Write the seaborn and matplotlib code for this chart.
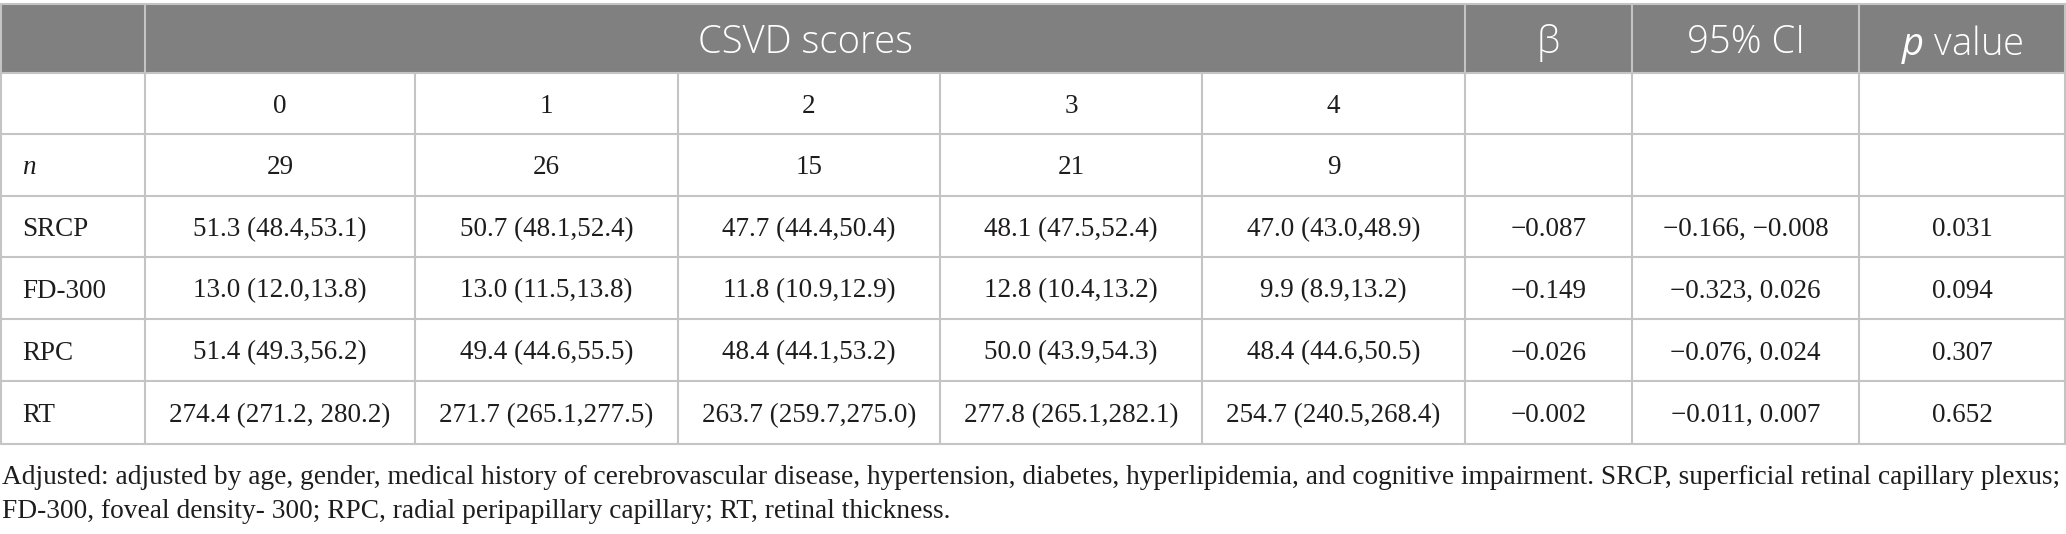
import matplotlib
matplotlib.use("Agg")
import matplotlib.pyplot as plt
import seaborn as sns
from matplotlib.patches import Rectangle

# ---------------- DATA ---------------- #
score_labels = ["0", "1", "2", "3", "4"]
n_counts = [29, 26, 15, 21, 9]
row_labels = ["SRCP", "FD-300", "RPC", "RT"]

srcp_cells = ["51.3 (48.4,53.1)", "50.7 (48.1,52.4)", "47.7 (44.4,50.4)", "48.1 (47.5,52.4)", "47.0 (43.0,48.9)"]
fd300_cells = ["13.0 (12.0,13.8)", "13.0 (11.5,13.8)", "11.8 (10.9,12.9)", "12.8 (10.4,13.2)", "9.9 (8.9,13.2)"]
rpc_cells = ["51.4 (49.3,56.2)", "49.4 (44.6,55.5)", "48.4 (44.1,53.2)", "50.0 (43.9,54.3)", "48.4 (44.6,50.5)"]
rt_cells = ["274.4 (271.2, 280.2)", "271.7 (265.1,277.5)", "263.7 (259.7,275.0)", "277.8 (265.1,282.1)", "254.7 (240.5,268.4)"]

beta = ["\u22120.087", "\u22120.149", "\u22120.026", "\u22120.002"]
ci95 = ["\u22120.166, \u22120.008", "\u22120.323, 0.026", "\u22120.076, 0.024", "\u22120.011, 0.007"]
p_values = ["0.031", "0.094", "0.307", "0.652"]

footnote = [
    "Adjusted: adjusted by age, gender, medical history of cerebrovascular disease, hypertension, diabetes, "
    "hyperlipidemia, and cognitive impairment. SRCP, superficial retinal capillary plexus;",
    "FD-300, foveal density- 300; RPC, radial peripapillary capillary; RT, retinal thickness.",
]

# ---------------- LAYOUT ---------------- #
sns.set_theme(style="white")
plt.rcParams["font.family"] = ["Liberation Serif", "DejaVu Serif"]
plt.rcParams["mathtext.fontset"] = "custom"
plt.rcParams["mathtext.it"] = "Open Sans:italic"
plt.rcParams["mathtext.rm"] = "Open Sans"

W, H = 2066, 534
fig = plt.figure(figsize=(W / 100, H / 100), dpi=100)
ax = fig.add_axes([0, 0, 1, 1])
ax.set_xlim(0, W)
ax.set_ylim(H, 0)
ax.axis("off")

col_edges = [1, 145, 415, 678, 940, 1202, 1465, 1632, 1859, 2065]
row_edges = [4, 73, 134, 196, 257, 319, 381, 444]

header_bg = "#808080"
line_c = "#c4c4c4"
text_c = "#1e1c1d"
serif_size = 19.5
head_size = 27.5
sans = ["Open Sans", "DejaVu Sans"]

# header band
ax.add_patch(Rectangle((col_edges[0], row_edges[0]), col_edges[-1] - col_edges[0],
                       row_edges[1] - row_edges[0], color=header_bg, lw=0, zorder=0))

lw = 1.5
# horizontal lines
for y in row_edges:
    ax.plot([col_edges[0], col_edges[-1]], [y, y], color=line_c, lw=lw, zorder=2)
# vertical lines (score columns split only below the header)
for i, x in enumerate(col_edges):
    y0 = row_edges[1] if 2 <= i <= 5 else row_edges[0]
    ax.plot([x, x], [y0, row_edges[-1]], color=line_c, lw=lw, zorder=2)

def cx(i):
    return (col_edges[i] + col_edges[i + 1]) / 2

def cy(j):
    return (row_edges[j] + row_edges[j + 1]) / 2

# header text
hy = cy(0)
head_kw = dict(color="white", fontsize=head_size, family=sans, fontweight="light",
               ha="center", va="center_baseline")
ax.text((col_edges[1] + col_edges[6]) / 2, hy, "CSVD scores", **head_kw)
ax.text(cx(6), hy, "\u03b2", **head_kw)
ax.text(cx(7), hy, "95% CI", **head_kw)
ax.text(cx(8), hy, r"$\mathit{p}$ value", **head_kw)

body_kw = dict(color=text_c, fontsize=serif_size, va="center_baseline")

# score row
for i, s in enumerate(score_labels):
    ax.text(cx(i + 1), cy(1), s, ha="center", **body_kw)

# n row
ax.text(22, cy(2), "n", style="italic", ha="left", **body_kw)
for i, n in enumerate(n_counts):
    ax.text(cx(i + 1), cy(2), str(n), ha="center", **body_kw)

# measurement rows
body = [srcp_cells, fd300_cells, rpc_cells, rt_cells]
for r, (label, cells) in enumerate(zip(row_labels, body)):
    y = cy(r + 3)
    ax.text(22, y, label, ha="left", **body_kw)
    for i, c in enumerate(cells):
        ax.text(cx(i + 1), y, c, ha="center", **body_kw)
    ax.text(cx(6), y, beta[r], ha="center", **body_kw)
    ax.text(cx(7), y, ci95[r], ha="center", **body_kw)
    ax.text(cx(8), y, p_values[r], ha="center", **body_kw)

# footnote
foot_kw = dict(color=text_c, fontsize=19.7, ha="left", va="center_baseline")
ax.text(2, 474, footnote[0], **foot_kw)
ax.text(2, 509, footnote[1], **foot_kw)

fig.savefig("out.png", dpi=100)
